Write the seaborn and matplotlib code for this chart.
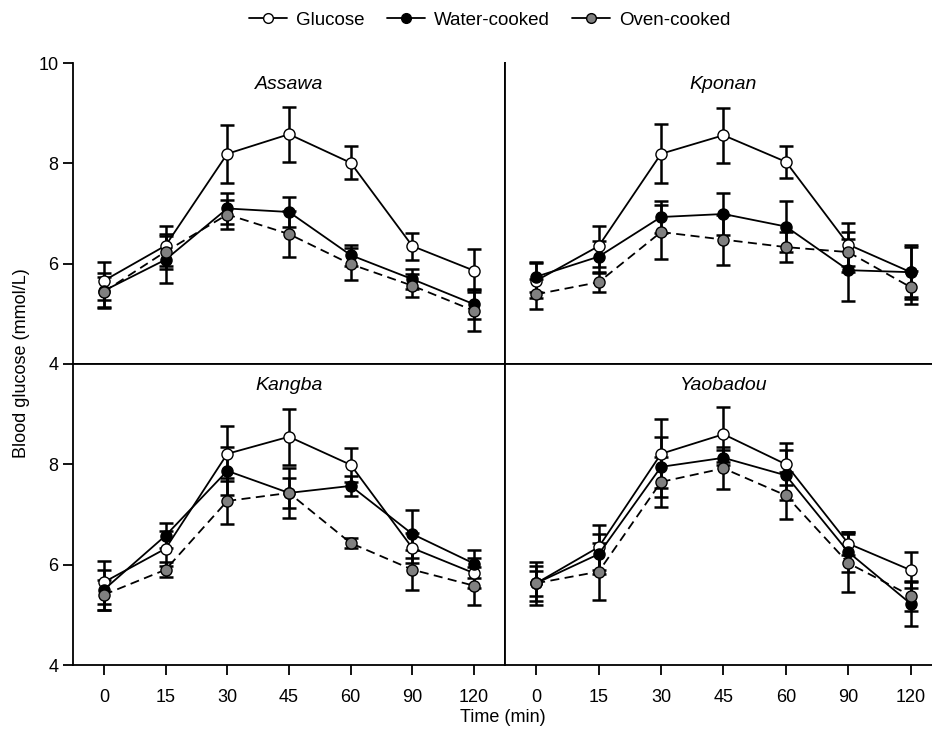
import numpy as np
import pandas as pd
import matplotlib.pyplot as plt
import seaborn as sns
from matplotlib.lines import Line2D

time_labels = ["0", "15", "30", "45", "60", "90", "120"]
cultivars = ["Assawa", "Kponan", "Kangba", "Yaobadou"]
treatments = ["Glucose", "Water-cooked", "Oven-cooked"]

# mean blood glucose (mmol/L)
assawa_glucose = [5.66, 6.36, 8.19, 8.58, 8.01, 6.35, 5.86]
assawa_water = [5.46, 6.08, 7.10, 7.03, 6.17, 5.69, 5.19]
assawa_oven = [5.44, 6.24, 6.98, 6.59, 5.99, 5.56, 5.06]
kponan_glucose = [5.66, 6.35, 8.19, 8.56, 8.03, 6.38, 5.83]
kponan_water = [5.74, 6.14, 6.93, 6.99, 6.74, 5.87, 5.83]
kponan_oven = [5.39, 5.63, 6.63, 6.48, 6.33, 6.23, 5.53]
kangba_glucose = [5.65, 6.32, 8.21, 8.55, 7.99, 6.33, 5.83]
kangba_water = [5.50, 6.58, 7.87, 7.43, 7.57, 6.61, 6.02]
kangba_oven = [5.40, 5.90, 7.27, 7.43, 6.43, 5.90, 5.58]
yaobadou_glucose = [5.63, 6.35, 8.21, 8.60, 8.00, 6.42, 5.89]
yaobadou_water = [5.63, 6.21, 7.95, 8.13, 7.78, 6.25, 5.22]
yaobadou_oven = [5.63, 5.86, 7.65, 7.92, 7.38, 6.03, 5.38]

# error bars (SEM)
assawa_glucose_err = [0.38, 0.40, 0.58, 0.55, 0.33, 0.27, 0.43]
assawa_water_err = [0.35, 0.47, 0.30, 0.30, 0.21, 0.20, 0.30]
assawa_oven_err = [0.30, 0.35, 0.29, 0.45, 0.32, 0.23, 0.41]
kponan_glucose_err = [0.35, 0.41, 0.59, 0.55, 0.32, 0.43, 0.50]
kponan_water_err = [0.30, 0.32, 0.32, 0.42, 0.50, 0.62, 0.54]
kponan_oven_err = [0.30, 0.20, 0.54, 0.50, 0.30, 0.40, 0.33]
kangba_glucose_err = [0.43, 0.35, 0.55, 0.56, 0.34, 0.30, 0.30]
kangba_water_err = [0.40, 0.25, 0.48, 0.50, 0.20, 0.47, 0.28]
kangba_oven_err = [0.30, 0.15, 0.45, 0.30, 0.10, 0.40, 0.38]
yaobadou_glucose_err = [0.43, 0.45, 0.69, 0.55, 0.42, 0.23, 0.36]
yaobadou_water_err = [0.35, 0.40, 0.60, 0.15, 0.50, 0.40, 0.44]
yaobadou_oven_err = [0.25, 0.57, 0.50, 0.42, 0.46, 0.58, 0.30]

means = {
    "Assawa": [assawa_glucose, assawa_water, assawa_oven],
    "Kponan": [kponan_glucose, kponan_water, kponan_oven],
    "Kangba": [kangba_glucose, kangba_water, kangba_oven],
    "Yaobadou": [yaobadou_glucose, yaobadou_water, yaobadou_oven],
}
errs = {
    "Assawa": [assawa_glucose_err, assawa_water_err, assawa_oven_err],
    "Kponan": [kponan_glucose_err, kponan_water_err, kponan_oven_err],
    "Kangba": [kangba_glucose_err, kangba_water_err, kangba_oven_err],
    "Yaobadou": [yaobadou_glucose_err, yaobadou_water_err, yaobadou_oven_err],
}

rows = []
for c in cultivars:
    for t, m, e in zip(treatments, means[c], errs[c]):
        for i, lab in enumerate(time_labels):
            rows.append({"cultivar": c, "treatment": t, "pos": i, "time": lab,
                         "glucose": m[i], "sem": e[i]})
df = pd.DataFrame(rows)

sns.set_style("ticks")
plt.rcParams["font.family"] = ["Liberation Sans", "DejaVu Sans"]
plt.rcParams["font.size"] = 13
for k in ["text.color", "axes.labelcolor", "xtick.color", "ytick.color", "axes.edgecolor"]:
    plt.rcParams[k] = "black"

fills = {"Glucose": "white", "Water-cooked": "black", "Oven-cooked": "#808080"}
dashes = {"Glucose": "", "Water-cooked": "", "Oven-cooked": (5, 3)}

fig = plt.figure(figsize=(9.32, 7.36), dpi=100)
W, H = 932, 736
ph = 301
# (left, top, width) in pixels; the right column runs past the image edge
positions = {
    "Assawa": (73, 63, 432), "Kponan": (505, 63, 437),
    "Kangba": (73, 364, 432), "Yaobadou": (505, 364, 437),
}

for c in cultivars:
    px, py, pw = positions[c]
    ax = fig.add_axes([px / W, 1 - (py + ph) / H, pw / W, ph / H])
    sub = df[df["cultivar"] == c]
    for t in treatments:
        s = sub[sub["treatment"] == t]
        ax.errorbar(s["pos"], s["glucose"], yerr=s["sem"], fmt="none",
                    ecolor="black", elinewidth=1.8, capsize=5, capthick=1.8, zorder=2)
    sns.lineplot(data=sub, x="pos", y="glucose", hue="treatment", style="treatment",
                 hue_order=treatments, style_order=treatments,
                 palette={t: "black" for t in treatments}, dashes=dashes,
                 markers={t: "o" for t in treatments}, markersize=8,
                 linewidth=1.3, errorbar=None, legend=False, ax=ax, zorder=3)
    # colour the marker faces per treatment
    for line, t in zip(ax.lines[-3:], treatments):
        line.set_markerfacecolor(fills[t])
        line.set_markeredgecolor("black")
        line.set_markeredgewidth(1.0)
    ax.text(0.5, 0.93, c, transform=ax.transAxes, ha="center", va="center",
            fontsize=14, style="italic")
    ax.set_xlim(-0.5, 6.5)
    ax.set_ylim(4, 10)
    ax.set_xlabel("")
    ax.set_ylabel("")
    top = c in ("Assawa", "Kponan")
    left = c in ("Assawa", "Kangba")
    for sp in ax.spines.values():
        sp.set_linewidth(1.3)
    if top:
        ax.spines["top"].set_visible(False)
        ax.set_xticks([])
        ax.set_yticks([4, 6, 8, 10])
    else:
        ax.set_xticks(range(len(time_labels)))
        ax.set_xticklabels(time_labels)
        ax.set_yticks([4, 6, 8])
    if not left:
        ax.set_yticks([])
    ax.tick_params(axis="both", direction="out", length=7, width=1.3, labelsize=13)
    ax.tick_params(axis="x", pad=10)

handles = [Line2D([0], [0], color="black", lw=1.3, marker="o", markersize=7,
                  markerfacecolor=fills[t], markeredgecolor="black") for t in treatments]
fig.legend(handles, treatments, loc="center", bbox_to_anchor=(490 / W, 1 - 20 / H),
           ncol=3, frameon=False, fontsize=13.5, handlelength=2.0,
           columnspacing=1.2, handletextpad=0.5)

fig.text(22 / W, 1 - 363 / H, "Blood glucose (mmol/L)", rotation=90,
         ha="center", va="center", fontsize=13)
fig.text(503 / W, 1 - 718 / H, "Time (min)", ha="center", va="center", fontsize=13)

fig.savefig("out.png", dpi=100)
